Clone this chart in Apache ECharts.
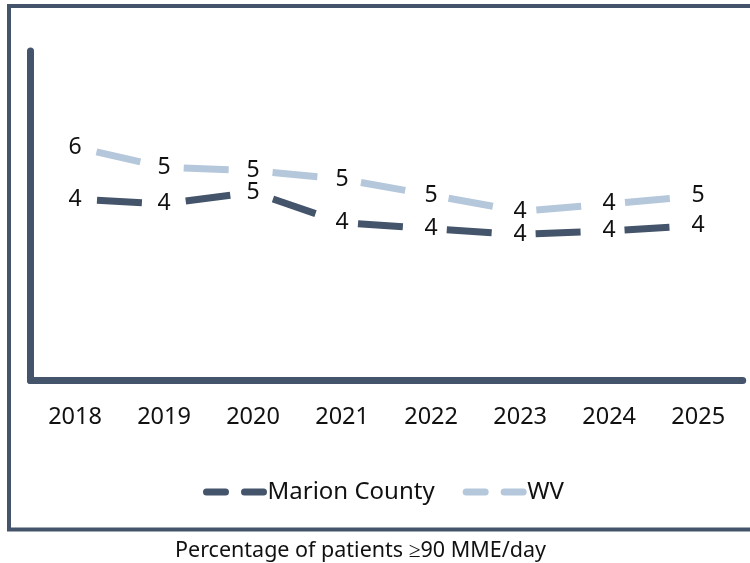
<!DOCTYPE html>
<html>
<head>
<meta charset="utf-8">
<script src="https://cdn.jsdelivr.net/npm/echarts@6/dist/echarts.min.js"></script>
<style>
html, body { margin: 0; padding: 0; background: #fff; }
#chart { width: 750px; height: 563px; }
</style>
</head>
<body>
<div id="chart"></div>
<script>
// 年份
var years = ['2018', '2019', '2020', '2021', '2022', '2023', '2024', '2025'];
// Marion County
var marionValues = [4.46, 4.34, 4.63, 3.88, 3.73, 3.59, 3.68, 3.81];
// WV
var wvValues = [5.74, 5.24, 5.16, 4.95, 4.56, 4.16, 4.34, 4.54];
var seriesNames = ['Marion County', 'WV'];
var footnote = 'Percentage of patients \u226590 MME/day';

var font = 'Noto Sans';
var darkColor = '#44546a';
var lightColor = '#b4c7db';

var chart = echarts.init(document.getElementById('chart'));

function makeSeries(name, data, color) {
    return {
        name: name,
        type: 'line',
        data: data,
        symbol: 'circle',
        symbolSize: 0,
        lineStyle: {
            color: color,
            width: 7,
            type: [45, 44],
            dashOffset: 67,
            cap: 'butt'
        },
        itemStyle: { color: color },
        label: {
            show: true,
            position: 'inside',
            fontFamily: font,
            fontSize: 23,
            color: '#111',
            formatter: function (p) {
                return Math.round(p.value);
            }
        },
        animation: false
    };
}

var option = {
    animation: false,
    textStyle: { fontFamily: font },
    title: {
        text: footnote,
        left: 170,
        top: 535,
        textStyle: {
            fontFamily: font,
            fontSize: 21.5,
            fontWeight: 'normal',
            color: '#111'
        }
    },
    graphic: [{
        type: 'rect',
        shape: { x: 9, y: 6, width: 760, height: 523.5 },
        style: { fill: 'none', stroke: darkColor, lineWidth: 4 },
        silent: true
    }],
    legend: {
        data: seriesNames,
        left: 198,
        top: 475,
        itemWidth: 59,
        itemHeight: 8,
        itemGap: 28,
        textStyle: {
            fontFamily: font,
            fontSize: 24,
            color: '#111',
            padding: [0, 0, 0, -3]
        },
        itemStyle: {
            color: 'rgba(0,0,0,0)',
            borderWidth: 0
        },
        lineStyle: {
            type: [19, 19],
            dashOffset: 0,
            width: 7,
            cap: 'round'
        }
    },
    grid: {
        left: 30.5,
        right: 7.3,
        top: 51,
        bottom: 182.5,
        containLabel: false
    },
    xAxis: {
        type: 'category',
        data: years,
        boundaryGap: true,
        axisLine: {
            show: true,
            lineStyle: { color: darkColor, width: 7 }
        },
        axisTick: { show: false },
        axisLabel: {
            fontFamily: font,
            fontSize: 23.5,
            color: '#111',
            margin: 25
        },
        splitLine: { show: false }
    },
    yAxis: {
        type: 'value',
        min: 0,
        max: 8.1,
        axisLine: {
            show: true,
            lineStyle: { color: darkColor, width: 7 }
        },
        axisTick: { show: false },
        axisLabel: { show: false },
        splitLine: { show: false }
    },
    series: [
        makeSeries(seriesNames[0], marionValues, darkColor),
        makeSeries(seriesNames[1], wvValues, lightColor)
    ]
};

option && chart.setOption(option);
</script>
</body>
</html>
